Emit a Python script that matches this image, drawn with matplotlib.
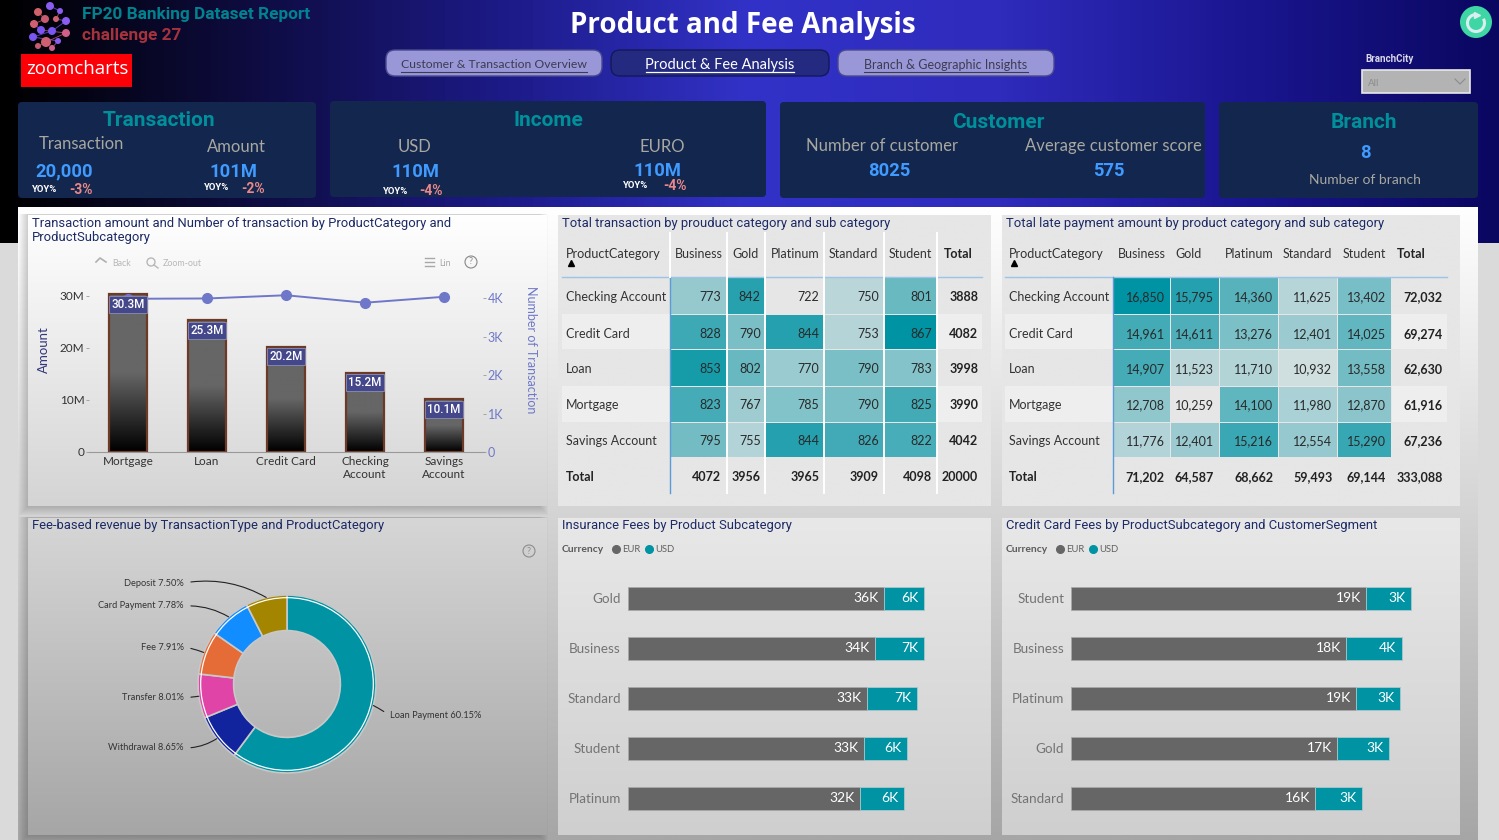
import numpy as np
import matplotlib
matplotlib.use('Agg')
import matplotlib.pyplot as plt
from matplotlib.colors import LinearSegmentedColormap
from matplotlib.patches import Rectangle, FancyBboxPatch, Circle, Arc

W, H = 1499, 840

# KPI cards
anio_trans = ['20,000', '101M', '110M', '110M']
yoy = ['-3%', '-2%', '-4%', '-4%']
num_clientes = '8025'
score_cliente = '575'
num_sucursales = '8'

# Combo chart
cat_barras = ['Mortgage', 'Loan', 'Credit Card', 'Checking\nAccount', 'Savings\nAccount']
monto = [30.3, 25.3, 20.2, 15.2, 10.1]
num_transacciones = [3990, 3998, 4082, 3888, 4042]

# Matrices
filas = ['Checking Account', 'Credit Card', 'Loan', 'Mortgage', 'Savings Account']
columnas = ['Business', 'Gold', 'Platinum', 'Standard', 'Student']
trans = np.array([
	[773, 842, 722, 750, 801],
	[828, 790, 844, 753, 867],
	[853, 802, 770, 790, 783],
	[823, 767, 785, 790, 825],
	[795, 755, 844, 826, 822]])
trans_total_fila = [3888, 4082, 3998, 3990, 4042]
trans_total_col = [4072, 3956, 3965, 3909, 4098]
trans_total = 20000
tarde = np.array([
	[16850, 15795, 14360, 11625, 13402],
	[14961, 14611, 13276, 12401, 14025],
	[14907, 11523, 11710, 10932, 13558],
	[12708, 10259, 14100, 11980, 12870],
	[11776, 12401, 15216, 12554, 15290]])
tarde_total_fila = [72032, 69274, 62630, 61916, 67236]
tarde_total_col = [71202, 64587, 68662, 59493, 69144]
tarde_total = 333088

# Donut
tipos = ['Loan Payment', 'Withdrawal', 'Transfer', 'Fee', 'Card Payment', 'Deposit']
porcentajes = [60.15, 8.65, 8.01, 7.91, 7.78, 7.50]
colores_donut = ['#0093a3', '#12239e', '#e044a7', '#e66c37', '#118dff', '#a38500']

# Stacked bars
seg_seguro = ['Gold', 'Business', 'Standard', 'Student', 'Platinum']
seguro_eur = [35.6, 34.4, 33.2, 32.8, 32.3]
seguro_usd = [5.5, 6.8, 7.0, 6.0, 6.1]
seg_tarjeta = ['Student', 'Business', 'Platinum', 'Gold', 'Standard']
tarjeta_eur = [19.3, 18.0, 18.65, 17.4, 15.97]
tarjeta_usd = [2.92, 3.62, 2.88, 3.4, 3.03]

DIN = 'Roboto'
SEGOE = 'Lato'
TEAL = '#0093a3'
NAVY = '#1c2a66'

fig = plt.figure(figsize=(W / 100, H / 100), dpi=100)

def ejes(x0, y0, x1, y1, z=2):
	ax = fig.add_axes([x0 / W, 1 - y1 / H, (x1 - x0) / W, (y1 - y0) / H], zorder=z)
	ax.patch.set_alpha(0)
	return ax

bg = ejes(0, 0, W, H, 1)
bg.set_xlim(0, W)
bg.set_ylim(H, 0)
bg.autoscale(False)
bg.axis('off')

def degradado(x0, y0, x1, y1, colores, horizontal=False, z=0.5):
	cmap = LinearSegmentedColormap.from_list('g', colores)
	g = np.linspace(0, 1, 256)
	g = g.reshape(1, -1) if horizontal else g.reshape(-1, 1)
	bg.imshow(g, extent=(x0, x1, y1, y0), cmap=cmap, aspect='auto', zorder=z, vmin=0, vmax=1)

def texto(x, y, s, size, color='#333333', family=SEGOE, ha='left', weight='normal', z=6, **kw):
	return bg.text(x, y, s, fontsize=size, color=color, family=family, ha=ha, va='center',
		fontweight=weight, zorder=z, **kw)

def sombra(x0, y0, x1, y1):
	for i in range(1, 10):
		bg.add_patch(Rectangle((x0 - i, y0 - 1), x1 - x0 + 2 * i - 8, y1 - y0 + i + 1, fc='#000000',
			alpha=0.018, ec='none', zorder=1))

def caja(x0, y0, x1, y1, color, radio=3, ec='none', z=2):
	bg.add_patch(FancyBboxPatch((x0 + radio, y0 + radio), x1 - x0 - 2 * radio, y1 - y0 - 2 * radio,
		boxstyle=f'round,pad={radio},rounding_size={radio}', fc=color, ec=ec, lw=1, zorder=z))

# Page background, header band and the lighter report sheet
bg.add_patch(Rectangle((0, 243), W, H - 243, fc='#dadada', ec='none', zorder=0.4))
degradado(0, 0, W, 243, ['#000000', '#0e0c40', '#1c1a86', '#3232c8', '#2f2bbc', '#1a1690', '#0a0760'],
	horizontal=True, z=0.6)
degradado(18, 207, 1478, H, ['#ffffff', '#a6a6a6'], z=0.8)

# Logo
nodos_logo = [(50, 6, 4, '#8a5cf0'), (38, 12, 4, '#d0606a'), (60, 11, 3, '#8a5cf0'), (45, 19, 4, '#c85a70'),
	(56, 19, 3, '#d06070'), (34, 24, 4, '#d06070'), (66, 21, 4, '#8a5cf0'), (41, 30, 4, '#7a55f0'),
	(52, 31, 4, '#7a55f0'), (66, 33, 4, '#d0608a'), (33, 37, 4, '#7a55f0'), (46, 42, 5, '#d06070'),
	(58, 41, 3, '#8a5cf0'), (38, 46, 3, '#c85a70'), (52, 48, 3, '#d0608a')]
for (xa, ya, _, _), (xb, yb, _, c) in zip(nodos_logo[:-2], nodos_logo[2:]):
	bg.plot([xa, xb], [ya, yb], color=c, lw=0.7, alpha=0.7, zorder=3)
for x, y, r, c in nodos_logo:
	bg.add_patch(Circle((x, y), r, fc=c, ec='none', zorder=3))
texto(82, 15, 'FP20 Banking Dataset Report', 12.4, '#00838f', DIN, weight='bold')
texto(82, 35.5, 'challenge 27', 12.4, '#a5323c', DIN, weight='bold')
bg.add_patch(Rectangle((21, 54), 111, 33, fc='#fb0007', ec='none', zorder=3))
texto(77, 69, 'zoomcharts', 13.4, 'white', 'Open Sans', ha='center', z=4)

texto(743, 25, 'Product and Fee Analysis', 20, 'white', 'Open Sans', ha='center', weight='bold')

# Navigation buttons
caja(386, 50, 602, 76, '#9a97d8', 9, '#4a4a90')
caja(611, 50, 829, 76, '#232a80', 9, '#14185c')
caja(838, 50, 1054, 76, '#9a97d8', 9, '#4a4a90')
texto(494, 65, 'Customer & Transaction Overview', 8.8, '#3c3c50', ha='center')
texto(720, 65, 'Product & Fee Analysis', 10.5, 'white', ha='center')
texto(946, 65, 'Branch & Geographic Insights', 9, '#3c3c50', ha='center')
bg.plot([401, 587], [71.5, 71.5], color='#3c3c50', lw=0.8, zorder=6)
bg.plot([646, 794], [72, 72], color='white', lw=0.9, zorder=6)
bg.plot([864, 1028], [71.5, 71.5], color='#3c3c50', lw=0.8, zorder=6)

# Refresh button and slicer
bg.add_patch(Circle((1476, 22), 16, fc='#3ed6a4', ec='none', zorder=3))
bg.add_patch(Arc((1476, 23), 17, 17, theta1=-30, theta2=270, ec='#d8eef0', lw=2.2, zorder=4))
bg.plot([1477], [14.5], marker='>', ms=5, color='#d8eef0', zorder=5)
texto(1365, 59, 'BranchCity', 7, '#d8d8e8', DIN, weight='bold')
bg.add_patch(Rectangle((1362, 70), 108, 23, fc='#b3b3b3', ec='#e8e8e8', lw=1.2, zorder=3))
texto(1368, 83, 'All', 7, '#8c8c8c')
bg.plot([1455, 1460, 1465], [79, 84, 79], color='#8c8c8c', lw=0.8, zorder=6)

# KPI cards
CARD = '#13264d'
caja(18, 102, 316, 198, CARD, 4)
caja(330, 101, 766, 197, CARD, 4)
caja(780, 102, 1205, 198, CARD, 4)
caja(1219, 102, 1478, 198, CARD, 4)
GRIS = '#a8a8a0'
AZUL = '#3f9bff'
ROSA = '#e88888'
TAM_KPI = 13.2
texto(159, 120, 'Transaction', 15, '#00909c', DIN, ha='center', weight='bold')
texto(548, 121, 'Income', 15, '#00909c', DIN, ha='center', weight='bold')
texto(998, 122, 'Customer', 15, '#00909c', DIN, ha='center', weight='bold')
texto(1364, 122, 'Branch', 15, '#00909c', DIN, ha='center', weight='bold')
texto(81, 144, 'Transaction', 12, GRIS, ha='center')
texto(236, 147, 'Amount', 12, GRIS, ha='center')
texto(415, 147, 'USD', 12, GRIS, ha='center')
texto(662, 147, 'EURO', 12, GRIS, ha='center')
texto(882, 146, 'Number of customer', 12, GRIS, ha='center')
texto(1113, 146, 'Average customer score', 12, GRIS, ha='center')
texto(1365, 180, 'Number of branch', 10, GRIS, ha='center')
pos_kpi = [(64, 171), (233, 172), (415, 172), (657, 171)]
pos_yoy = [(32, 189, 69, 190), (204, 188, 241, 189), (383, 191, 419, 191), (623, 186, 663, 186)]
for (x, y), v in zip(pos_kpi, anio_trans):
	texto(x, y, v, TAM_KPI, AZUL, DIN, ha='center', weight='bold')
for (x, y, x2, y2), v in zip(pos_yoy, yoy):
	texto(x, y, 'YOY%', 6.8, 'white', DIN, weight='bold')
	texto(x2, y2, v, 10, ROSA, DIN, weight='bold')
texto(889, 171, num_clientes, TAM_KPI, AZUL, DIN, ha='center', weight='bold')
texto(1109, 171, score_cliente, TAM_KPI, AZUL, DIN, ha='center', weight='bold')
texto(1365, 153, num_sucursales, TAM_KPI, AZUL, DIN, ha='center', weight='bold')

# Report panels: the two left ones only cast a shadow on the sheet
sombra(28, 215, 547, 506)
sombra(28, 518, 547, 835)
degradado(28, 215, 547, 506, ['#ffffff', '#d4d4d4'], z=1.5)
degradado(28, 518, 547, 835, ['#d6d6d6', '#a6a6a6'], z=1.5)
degradado(558, 215, 991, 506, ['#e6e6e6', '#e6e6e6'], z=1.5)
degradado(1002, 215, 1460, 506, ['#e6e6e6', '#e6e6e6'], z=1.5)
degradado(558, 518, 991, 835, ['#e8e8e8', '#cfcfcf'], z=1.5)
degradado(1002, 518, 1460, 835, ['#e8e8e8', '#cfcfcf'], z=1.5)

def titulo(x, y, s):
	texto(x, y, s, 9.35, NAVY, DIN)

titulo(32, 223, 'Transaction amount and Number of transaction by ProductCategory and')
titulo(32, 238, 'ProductSubcategory')
titulo(562, 223, 'Total transaction by prouduct category and sub category')
titulo(1006, 223, 'Total late payment amount by product category and sub category')
titulo(32, 526, 'Fee-based revenue by TransactionType and ProductCategory')
titulo(562, 526, 'Insurance Fees by Product Subcategory')
titulo(1006, 526, 'Credit Card Fees by ProductSubcategory and CustomerSegment')

# Combo chart toolbar
texto(112, 263, 'Back', 6.4, '#b8b8b8')
texto(163, 263, 'Zoom-out', 6.4, '#b8b8b8')
texto(439, 263, 'Lin', 6.4, '#a8a8a8')
bg.plot([96, 100, 106], [262, 258, 262], color='#b0b0b0', lw=1.2, zorder=5)
bg.add_patch(Circle((151, 262), 4, fc='none', ec='#b8b8b8', lw=1, zorder=5))
bg.plot([154, 158], [265, 268], color='#b8b8b8', lw=1, zorder=5)
for yy in [258, 262, 266]:
	bg.plot([425, 434], [yy, yy], color='#a8a8a8', lw=1, zorder=5)
bg.add_patch(Circle((471, 262), 6, fc='none', ec='#888888', lw=0.8, zorder=5))
texto(471, 262, '?', 6.5, '#888888', ha='center')
bg.add_patch(Circle((529, 551), 6, fc='none', ec='#8c8c8c', lw=0.8, zorder=5))
texto(529, 551, '?', 6.5, '#8c8c8c', ha='center')

# Columns with grey-to-black fill and the transaction count line
ax = ejes(88.5, 280, 483.5, 452)
x_barras = np.arange(len(cat_barras))
barras = ax.bar(x_barras, monto, width=0.49, color='none', edgecolor='#6e3a28', linewidth=1.6, zorder=2)
cmap_barra = LinearSegmentedColormap.from_list('b', ['#000000', '#666666', '#666666'])
for b in barras:
	im = ax.imshow(np.linspace(1, 0, 128).reshape(-1, 1), extent=(b.get_x(), b.get_x() + b.get_width(), 0, b.get_height()),
		cmap=cmap_barra, aspect='auto', zorder=1, vmin=0, vmax=1)
	im.set_clip_path(b)
ax.set_xlim(-0.5, 4.5)
ax.set_ylim(0, 172 / 5.2)
ax.set_xticks(x_barras, cat_barras, fontsize=8.5, family=SEGOE, color='#333333')
ax.set_yticks([0, 10, 20, 30], ['0', '10M', '20M', '30M'], fontsize=8.5, family=SEGOE, color='#333333')
ax.tick_params(axis='x', length=0, pad=3)
ax.tick_params(axis='y', length=2, width=0.6, color='#999999', pad=1)
for s in ['top', 'right', 'left']:
	ax.spines[s].set_visible(False)
ax.spines['bottom'].set_color('#999999')
texto(44, 350, 'Amount', 9.5, '#33367a', rotation=90, ha='center')

ax2 = ax.twinx()
ax2.patch.set_alpha(0)
ax2.plot(x_barras, num_transacciones, color='#6f78c8', lw=1.4, marker='o', ms=7, zorder=2)
ax2.set_ylim(0, 172 / 38.4 * 1000)
ax2.set_yticks([0, 1000, 2000, 3000, 4000], ['0', '1K', '2K', '3K', '4K'], fontsize=9, family=SEGOE, color='#6f78c8')
ax2.tick_params(axis='y', length=2, width=0.6, color='#999999', pad=1)
for s in ['top', 'right', 'left', 'bottom']:
	ax2.spines[s].set_visible(False)
# value tags go on the top axes so the line markers stay behind them
for xb, v in zip(x_barras, monto):
	ax2.annotate(f'{v}M', (xb, v), xycoords=ax.transData, xytext=(0, -7), textcoords='offset points', ha='center', va='center',
		color='white', fontsize=8.4, family=DIN, fontweight='medium', zorder=5,
		bbox=dict(boxstyle='square,pad=0.18', fc='#44488a', ec='#8c8fb4', lw=0.6))
texto(531, 350, 'Number of Transaction', 9, '#6f78c8', rotation=-90, ha='center')

def matriz(datos, total_fila, total_col, total, bordes_x, izq, der, derecha_txt, cab_x, formato, lineas_blancas):
	bordes_y = [277.3, 314, 349.3, 386, 421.7, 457.3]
	# alternate row banding
	for i in [1, 3]:
		bg.add_patch(Rectangle((izq, bordes_y[i]), der - izq, bordes_y[i + 1] - bordes_y[i], fc='#eeeeee', ec='none', zorder=2))
	cmap = LinearSegmentedColormap.from_list('h', ['#e6e6e6', TEAL])
	bg.pcolormesh(bordes_x, bordes_y, datos, cmap=cmap, zorder=3, edgecolors='#e6e6e6', linewidth=0.7)
	bg.set_xlim(0, W)
	bg.set_ylim(H, 0)
	bg.plot([izq, der], [277.3, 277.3], color='#9cc3e8', lw=1, zorder=4)
	bg.plot([bordes_x[0], bordes_x[0]], [277.3, 493], color='#5b9bd8', lw=1, zorder=4)
	if lineas_blancas:
		for xb in bordes_x:
			bg.plot([xb, xb], [233, 277], color='white', lw=1.4, zorder=4)
		for xb in bordes_x[1:]:
			bg.plot([xb, xb], [277, 493], color='white', lw=1.4, zorder=4)
	y_txt = [297, 334, 369, 405, 441]
	texto(izq + 4, 253.5, 'ProductCategory', 9.1, '#333333')
	bg.plot([izq + 9], [262.5], marker='^', ms=4, color='black', zorder=6)
	for xc, c in zip(cab_x, columnas):
		texto(xc, 253.5, c, 9, '#333333')
	texto(cab_x[-1] + (cab_x[-1] - cab_x[-2]) - 5, 253.5, 'Total', 9, '#222222', weight='bold')
	for i, f in enumerate(filas):
		texto(izq + 4, y_txt[i], f, 9, '#333333')
		for j in range(5):
			texto(derecha_txt[j], y_txt[i], formato(datos[i, j]), 9, '#2a2a2a', ha='right')
		texto(derecha_txt[5], y_txt[i], formato(total_fila[i]), 9, '#222222', ha='right', weight='bold')
	texto(izq + 4, 477, 'Total', 9, '#222222', weight='bold')
	for j in range(5):
		texto(derecha_txt[j], 477, formato(total_col[j]), 9, '#222222', ha='right', weight='bold')
	texto(derecha_txt[5], 477, formato(total), 9, '#222222', ha='right', weight='bold')

matriz(trans, trans_total_fila, trans_total_col, trans_total,
	[670, 726.7, 765, 824.3, 884, 937.3], 562, 982,
	[721, 760.7, 819.3, 878.7, 931.7, 978.3], [675, 732, 771, 829, 889], lambda v: f'{v}', True)
matriz(tarde, tarde_total_fila, tarde_total_col, tarde_total,
	[1113.3, 1170, 1219, 1278, 1337.3, 1390.7], 1005, 1447,
	[1165, 1214, 1273.3, 1332.3, 1385.7, 1442.7], [1118, 1175, 1224.5, 1283, 1342.5], lambda v: f'{v:,}', False)

# Donut
R = 89
dn = ejes(287 - R * 1.02, 684 - R * 1.02, 287 + R * 1.02, 684 + R * 1.02)
dn.pie(porcentajes, colors=colores_donut, startangle=90, counterclock=False, radius=1,
	wedgeprops=dict(width=0.4, edgecolor='#c8c8c8', linewidth=1.2))
dn.set_xlim(-1.02, 1.02)
dn.set_ylim(-1.02, 1.02)
dn.add_patch(Circle((0, 0), 0.97, fc='none', ec='white', lw=0.9, zorder=5))
pos_etiquetas = [(390, 716, 0.05), (184, 748, 0.15), (184, 698, 0.0), (184, 647, -0.05), (184, 606, -0.15), (184, 583, -0.18)]
acum = 0
for t, p, (xt, yt, rad) in zip(tipos, porcentajes, pos_etiquetas):
	ang = np.deg2rad(90 - (acum + p / 2) * 3.6)
	if t == 'Loan Payment':
		ang = np.deg2rad(-14)
	acum += p
	izquierda = xt < 287
	dn.annotate(f'{t} {p:.2f}%', xy=(np.cos(ang), np.sin(ang)), xycoords='data', xytext=(xt, yt), textcoords=bg.transData,
		ha='right' if izquierda else 'left', va='center', fontsize=6.7, family=SEGOE, color='#333333', annotation_clip=False,
		arrowprops=dict(arrowstyle='-', color='#222222', lw=0.8, shrinkA=3, shrinkB=0, relpos=(1, 0.5) if izquierda else (0, 0.5),
		connectionstyle=f'arc3,rad={rad}'))

def barras_apiladas(x0, x1, escala, segmentos, eur, usd, x_leyenda):
	ax = ejes(x0, 573, x1, 823)
	y = np.arange(len(segmentos))
	ax.barh(y, eur, height=0.46, color='#666666', edgecolor='#a8a8a8', linewidth=0.6)
	ax.barh(y, usd, left=eur, height=0.46, color=TEAL, edgecolor='#a8c8cc', linewidth=0.6)
	ax.set_xlim(0, (x1 - x0) / escala)
	ax.set_ylim(4.5, -0.5)
	ax.set_yticks(y, segmentos, fontsize=9.7, family=SEGOE, color='#747474')
	ax.set_xticks([])
	ax.tick_params(axis='y', length=0, pad=5)
	for s in ax.spines.values():
		s.set_visible(False)
	for i in y:
		ax.annotate(f'{eur[i]:.0f}K', (eur[i], i), xytext=(-4, 0), textcoords='offset points', ha='right', va='center',
			color='white', fontsize=10, family=SEGOE)
		ax.annotate(f'{usd[i]:.0f}K', (eur[i] + usd[i], i), xytext=(-4, 0), textcoords='offset points', ha='right', va='center',
			color='white', fontsize=10, family=SEGOE)
	texto(x_leyenda, 549, 'Currency', 7.4, '#5a5a5a', weight='bold')
	bg.plot([x_leyenda + 54], [548.5], marker='o', ms=5.5, color='#666666', zorder=6)
	texto(x_leyenda + 60, 549, 'EUR', 6.8, '#606060')
	bg.plot([x_leyenda + 87], [548.5], marker='o', ms=5.5, color=TEAL, zorder=6)
	texto(x_leyenda + 93, 549, 'USD', 6.8, '#606060')

barras_apiladas(627.7, 960, 7.2, seg_seguro, seguro_eur, seguro_usd, 562)
barras_apiladas(1071, 1440, 15.3, seg_tarjeta, tarjeta_eur, tarjeta_usd, 1006)

fig.savefig('out.png', dpi=100)
